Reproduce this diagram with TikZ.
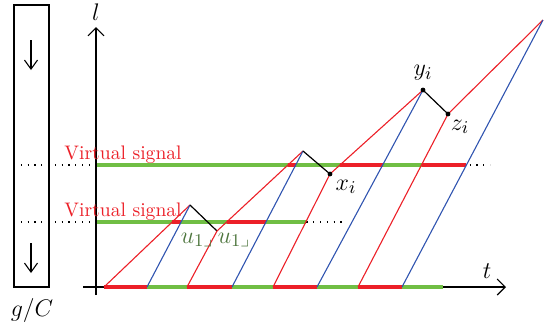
\documentclass[tikz,border=0pt]{standalone}
\usepackage{amsmath,amssymb}
\usepackage{tikz}
\usetikzlibrary{arrows.meta,calc,positioning}
\usepackage{xcolor}
\definecolor{sigred}{RGB}{236,32,40}
\definecolor{sigblue}{RGB}{48,84,176}
\definecolor{siggreen}{RGB}{112,190,68}
\definecolor{ulabel}{RGB}{78,118,62}

\begin{document}
\begin{tikzpicture}[x=0.5pt,y=-0.5pt,font=\fontsize{9.8}{11}\selectfont,
  shock/.style={sigred,line width=0.55pt},
  disch/.style={sigblue,line width=0.55pt},
  depart/.style={black,line width=0.6pt},
  grnbar/.style={siggreen,line width=1.6pt},
  redbar/.style={sigred,line width=1.6pt},
  virt/.style={black,line width=0.6pt,dash pattern=on 0.6pt off 2.8pt},
  axisline/.style={line width=0.55pt,-{Straight Barb[length=4pt,width=8pt]}},
  vsig/.style={anchor=base west,inner sep=0pt,text=sigred},
  mlab/.style={inner sep=0pt,font=\fontsize{12.5}{14}\selectfont},
  ulab/.style={mlab,text=ulabel}]
 \useasboundingbox (0,0) rectangle (547,328);
 % g/C column
 \draw[line width=0.6pt] (14,5) rectangle (49,287);
 \draw[line width=0.55pt,-{Straight Barb[length=4.5pt,width=6.5pt]}] (31,40) -- (31,70);
 \draw[line width=0.55pt,-{Straight Barb[length=4.5pt,width=6.5pt]}] (31,243) -- (31,273);
 \node[mlab] (gc) at (32,310) {$g/C$};
 % axes
 \coordinate (O) at (96,287);
 \coordinate (ltop) at (96,27);
 \coordinate (tend) at (506,287);
 \draw[axisline] (96,295) -- (ltop);
 \draw[axisline] (83,287) -- (tend);
 \node[mlab] (lname) at (96,12) {$l$};
 \node[mlab] (tname) at (487,271) {$t$};
 % virtual signal levels
 \draw[virt] (14,165) -- (490,165);
 \draw[virt] (14,222) -- (345,222);
 \draw[grnbar] (97,222) -- (305.8,222);
 \draw[redbar] (172.2,222) -- (181.1,222);
 \draw[redbar] (226.7,222) -- (265.9,222);
 \draw[grnbar] (97,165) -- (421.5,165);
 \draw[redbar] (288,165) -- (295.7,165);
 \draw[redbar] (340,165) -- (382.6,165);
 \draw[redbar] (421.5,165) -- (466.4,165);
 \node[vsig] (vs1) at (64,159) {Virtual signal};
 \node[vsig] (vs2) at (64,216) {Virtual signal};
 % signal at the stop line
 \foreach \a/\b/\c in {104/147/187,187/232/273,273/317/358,358/402/443}{
   \draw[redbar] (\a,287) -- (\b,287);
   \draw[grnbar] (\b,287) -- (\c,287);
 }
 % waves
 \coordinate (r1) at (104,287);
 \coordinate (b1) at (147,287);
 \coordinate (r2) at (187,287);
 \coordinate (b2) at (232,287);
 \coordinate (r3) at (273,287);
 \coordinate (b3) at (317,287);
 \coordinate (r4) at (358,287);
 \coordinate (b4) at (402,287);
 \coordinate (p1) at (190,205);
 \coordinate (k1) at (217,231);
 \coordinate (p2) at (303,151);
 \coordinate (xi) at (330,174);
 \coordinate (yi) at (423,90);
 \coordinate (zi) at (448,114);
 \coordinate (tp) at (543,20);
 \draw[shock] (r1) -- (p1);
 \draw[disch] (b1) -- (p1);
 \draw[depart] (p1) -- (k1);
 \draw[shock] (r2) -- (k1) -- (p2);
 \draw[disch] (b2) -- (p2);
 \draw[depart] (p2) -- (xi);
 \draw[shock] (r3) -- (xi) -- (yi);
 \draw[disch] (b3) -- (yi);
 \draw[depart] (yi) -- (zi);
 \draw[shock] (r4) -- (zi) -- (tp);
 \draw[disch] (b4) -- (tp);
 \fill (xi) circle[radius=1.2pt];
 \fill (yi) circle[radius=1.2pt];
 \fill (zi) circle[radius=1.2pt];
 \node[mlab] (xlab) at (346,187) {$x_i$};
 \node[mlab] (ylab) at (423,73) {$y_i$};
 \node[mlab] (zlab) at (460,127) {$z_i$};
 \node[ulab] (u1a) at (197,240) {$u_{1\lrcorner}$};
 \node[ulab] (u1b) at (234,240) {$u_{1\lrcorner}$};
\end{tikzpicture}
\end{document}
